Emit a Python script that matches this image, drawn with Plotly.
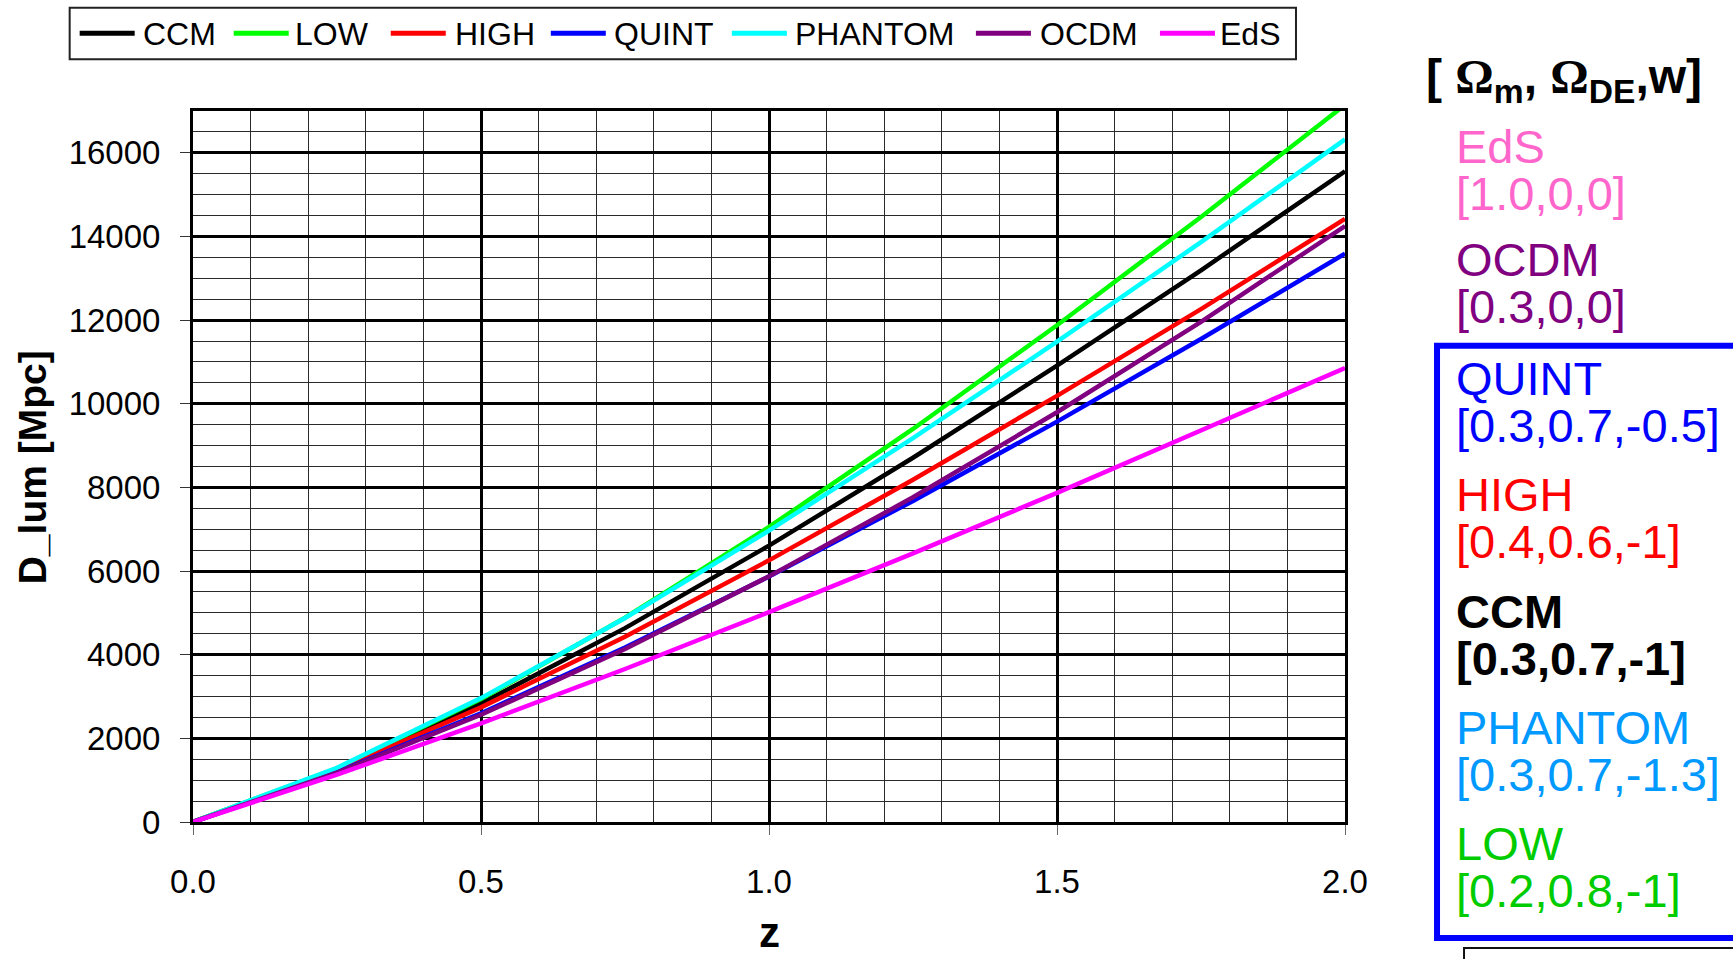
import plotly.graph_objects as go

# ---------------- data ----------------
z = [0.0, 0.25, 0.5, 0.75, 1.0, 1.25, 1.5, 1.75, 2.0]
ccm = [0, 1260, 2833, 4635, 6608, 8709, 10910, 13191, 15560]
low = [0, 1284, 2938, 4884, 7054, 9397, 11878, 14467, 17147]
high = [0, 1238, 2741, 4431, 6256, 8183, 10190, 12262, 14420]
quint = [0, 1195, 2601, 4169, 5868, 7676, 9573, 11547, 13590]
phantom = [0, 1297, 2962, 4877, 6965, 9177, 11484, 13864, 16320]
ocdm = [0, 1181, 2565, 4135, 5873, 7764, 9797, 11960, 14250]
eds = [0, 1130, 2358, 3658, 5018, 6424, 7871, 9351, 10855]

series_names = ["CCM", "LOW", "HIGH", "QUINT", "PHANTOM", "OCDM", "EdS"]
series_values = [ccm, low, high, quint, phantom, ocdm, eds]
series_colors = ["#000000", "#00FF00", "#FF0000", "#0000FF", "#00FFFF", "#800080", "#FF00FF"]

panel_names = ["EdS", "OCDM", "QUINT", "HIGH", "CCM", "PHANTOM", "LOW"]
panel_params = ["[1.0,0,0]", "[0.3,0,0]", "[0.3,0.7,-0.5]", "[0.4,0.6,-1]",
                "[0.3,0.7,-1]", "[0.3,0.7,-1.3]", "[0.2,0.8,-1]"]
panel_colors = ["#FF66CC", "#800080", "#0000FF", "#FF0000", "#000000", "#0099FF", "#00CC00"]

# ---------------- geometry ----------------
W, H = 1733, 959
L, R, T, B = 193.3, 1345.0, 110.7, 822.0
PW, PH = R - L, B - T
FONT = "Arial, Liberation Sans, sans-serif"


def px(x):
    return (x - L) / PW


def py(y):
    return (B - y) / PH


fig = go.Figure()
for name, vals, col in zip(series_names, series_values, series_colors):
    fig.add_trace(go.Scatter(x=z, y=vals, mode="lines", name=name,
                             line=dict(color=col, width=4.5), showlegend=False))

annotations = []
shapes = []

# ---- legend box at top ----
shapes.append(dict(type="rect", xref="paper", yref="paper",
                   x0=px(70), x1=px(1296), y0=py(7.5), y1=py(59),
                   line=dict(color="#222222", width=2), fillcolor="white", layer="above"))
leg_sample_x = [80, 234, 391, 551, 732, 976, 1160]
leg_text_x = [143, 295, 455, 614, 795, 1040, 1220]
for name, col, sx, tx in zip(series_names, series_colors, leg_sample_x, leg_text_x):
    shapes.append(dict(type="line", xref="paper", yref="paper",
                       x0=px(sx), x1=px(sx + 55), y0=py(33), y1=py(33),
                       line=dict(color=col, width=5), layer="above"))
    annotations.append(dict(text=name, xref="paper", yref="paper", x=px(tx - 2), y=py(34),
                            xanchor="left", yanchor="middle", showarrow=False,
                            font=dict(family=FONT, size=32, color="black")))

# ---- axis titles ----
annotations.append(dict(text="<b>D_lum [Mpc]</b>", xref="paper", yref="paper",
                        x=px(33), y=py(467.5), textangle=-90, showarrow=False,
                        xanchor="center", yanchor="middle",
                        font=dict(family=FONT, size=39, color="black")))
annotations.append(dict(text="<b>z</b>", xref="paper", yref="paper",
                        x=px(769.5), y=py(958), showarrow=False,
                        xanchor="center", yanchor="bottom",
                        font=dict(family=FONT, size=42, color="black")))

# ---- right panel ----
OM = '<span style="font-family:Liberation Serif, DejaVu Serif, serif">Ω</span>'
annotations.append(dict(text=f"<b>[ {OM}<sub>m</sub>, {OM}<sub>DE</sub>,w]</b>",
                        xref="paper", yref="paper",
                        x=px(1424), y=py(80), showarrow=False,
                        xanchor="left", yanchor="middle",
                        font=dict(family=FONT, size=48, color="black")))
name_y = [146, 259, 378.5, 494.75, 611, 727.25, 843.5]
for nm, prm, col, yy in zip(panel_names, panel_params, panel_colors, name_y):
    bold = nm == "CCM"
    t1 = f"<b>{nm}</b>" if bold else nm
    t2 = f"<b>{prm}</b>" if bold else prm
    annotations.append(dict(text=t1, xref="paper", yref="paper", x=px(1454), y=py(yy),
                            xanchor="left", yanchor="middle", showarrow=False,
                            font=dict(family=FONT, size=47, color=col)))
    annotations.append(dict(text=t2, xref="paper", yref="paper", x=px(1454), y=py(yy + 47),
                            xanchor="left", yanchor="middle", showarrow=False,
                            font=dict(family=FONT, size=47, color=col)))

shapes.append(dict(type="rect", xref="paper", yref="paper",
                   x0=px(1437), x1=px(1790), y0=py(345.5), y1=py(938),
                   line=dict(color="#0000FF", width=6), layer="above"))
shapes.append(dict(type="rect", xref="paper", yref="paper",
                   x0=px(1464), x1=px(1790), y0=py(948), y1=py(1000),
                   line=dict(color="#111111", width=2), layer="above"))

fig.update_layout(
    width=W, height=H,
    margin=dict(l=L, r=W - R, t=T, b=H - B, pad=0),
    paper_bgcolor="white", plot_bgcolor="white",
    showlegend=False,
    annotations=annotations, shapes=shapes,
    font=dict(family=FONT, color="black"),
)
fig.update_xaxes(
    range=[0, 2.0], tick0=0, dtick=0.5, tickformat=".1f",
    showgrid=True, gridcolor="black", gridwidth=2.5,
    minor=dict(dtick=0.1, showgrid=True, gridcolor="#2a2a2a", gridwidth=1, ticks=""),
    showline=True, mirror=True, linecolor="black", linewidth=3,
    ticks="outside", ticklen=10, tickwidth=1, tickcolor="#666666",
    ticklabelstandoff=18, zeroline=False,
    tickfont=dict(family=FONT, size=33, color="black"),
)
fig.update_yaxes(
    range=[0, 17000], tick0=0, dtick=2000, tickformat="d",
    showgrid=True, gridcolor="black", gridwidth=2.5,
    minor=dict(dtick=500, showgrid=True, gridcolor="#2a2a2a", gridwidth=1, ticks=""),
    showline=True, mirror=True, linecolor="black", linewidth=3,
    ticks="outside", ticklen=10, tickwidth=1, tickcolor="#333333",
    ticklabelstandoff=13, zeroline=False,
    tickfont=dict(family=FONT, size=33, color="black"),
)

fig.write_html("out.html")
